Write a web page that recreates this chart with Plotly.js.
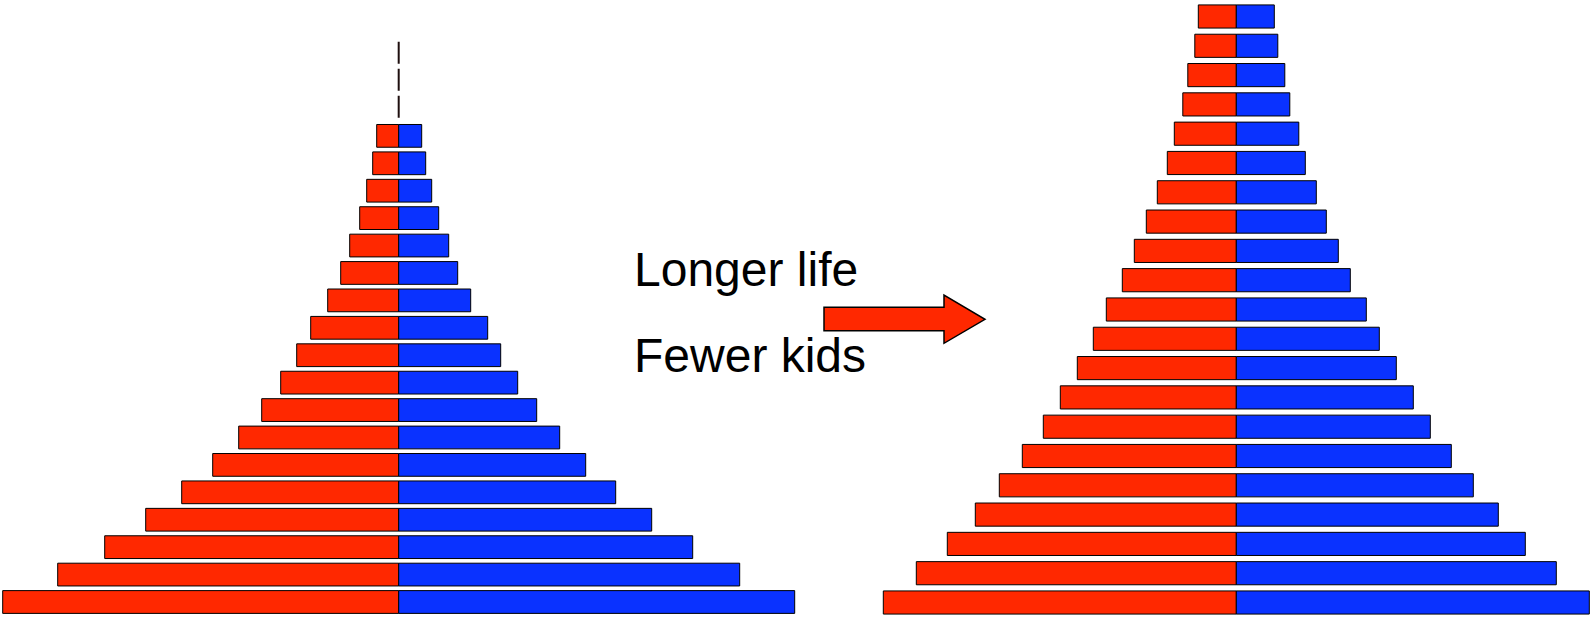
<!DOCTYPE html>
<html>
<head>
<meta charset="utf-8">
<script src="https://cdn.plot.ly/plotly-3.0.1.min.js"></script>
<style>
  html, body { margin: 0; padding: 0; background: #ffffff; }
  #chart { width: 1592px; height: 618px; }
</style>
</head>
<body>
<div id="chart"></div>
<script>
// ---------- DATA (bottom age group first) ----------
// Before: young, high-birth population (18 age groups)
const beforeAges = ['0-4','5-9','10-14','15-19','20-24','25-29','30-34','35-39','40-44',
                    '45-49','50-54','55-59','60-64','65-69','70-74','75-79','80-84','85-89'];
const beforeLeft  = [396, 341, 294, 253, 217, 186, 160, 137, 118, 102, 88, 71, 58, 49, 39, 32, 26, 22];
const beforeRight = [396, 341, 294, 253, 217, 187, 161, 138, 119, 102, 89, 72, 59, 50, 40, 33, 27, 23];

// After: longer life, fewer kids (21 age groups)
const afterAges = ['0-4','5-9','10-14','15-19','20-24','25-29','30-34','35-39','40-44',
                   '45-49','50-54','55-59','60-64','65-69','70-74','75-79','80-84','85-89',
                   '90-94','95-99','100+'];
const afterLeft  = [353, 320, 289, 261, 237, 214, 193, 176, 159, 143, 130, 114, 102, 90, 79, 69, 62, 53.5, 48.5, 41.5, 38];
const afterRight = [353, 320, 289, 262, 237, 215, 194, 177, 160, 143, 130, 114, 102, 90, 80, 69, 62.5, 53.5, 48.5, 41.5, 38];

const annotationTexts = ['Longer life', 'Fewer kids'];

// ---------- STYLE ----------
const RED = '#FF2800';
const BLUE = '#0A32FF';
const W = 1592, H = 618;

function sideTraces(ages, leftVals, rightVals, xa, ya, barWidth) {
  return [
    {
      type: 'bar', orientation: 'h',
      y: ages, x: leftVals.map(v => -v),
      xaxis: xa, yaxis: ya, width: barWidth,
      marker: { color: RED, line: { color: '#000000', width: 1 } },
      hoverinfo: 'skip', showlegend: false
    },
    {
      type: 'bar', orientation: 'h',
      y: ages, x: rightVals,
      xaxis: xa, yaxis: ya, width: barWidth,
      marker: { color: BLUE, line: { color: '#000000', width: 1 } },
      hoverinfo: 'skip', showlegend: false
    }
  ];
}

const data = [
  ...sideTraces(beforeAges, beforeLeft, beforeRight, 'x', 'y', 0.83),
  ...sideTraces(afterAges, afterLeft, afterRight, 'x2', 'y2', 0.79)
];

const hidden = {
  showgrid: false, zeroline: false, showline: false,
  showticklabels: false, ticks: '', fixedrange: true
};

// pixel helpers for paper positioning
const px = x => x / W;
const py = y => 1 - y / H;

const arrowPath =
  'M ' + px(824) + ',' + py(307.3) +
  ' L ' + px(944) + ',' + py(307.3) +
  ' L ' + px(944) + ',' + py(295) +
  ' L ' + px(985) + ',' + py(319.3) +
  ' L ' + px(944) + ',' + py(343.3) +
  ' L ' + px(944) + ',' + py(330.7) +
  ' L ' + px(824) + ',' + py(330.7) + ' Z';

const layout = {
  width: W, height: H,
  margin: { l: 0, r: 0, t: 0, b: 0, pad: 0 },
  paper_bgcolor: '#ffffff', plot_bgcolor: '#ffffff',
  barmode: 'relative',
  showlegend: false,
  xaxis:  Object.assign({}, hidden, { domain: [0, 797.4 / W], range: [-398.7, 398.7] }),
  yaxis:  Object.assign({}, hidden, { type: 'category', range: [-0.5835, 21.955], anchor: 'x' }),
  xaxis2: Object.assign({}, hidden, { domain: [880.6 / W, 1], range: [-355.7, 355.7], anchor: 'y2' }),
  yaxis2: Object.assign({}, hidden, { type: 'category', range: [-0.529, 20.563], anchor: 'x2' }),
  shapes: [
    {
      type: 'line', xref: 'x', yref: 'paper',
      x0: 0, x1: 0, y0: py(41.7), y1: py(118),
      line: { color: '#1e0f0f', width: 2, dash: '22px,5px' }
    },
    {
      type: 'path', xref: 'paper', yref: 'paper',
      path: arrowPath,
      fillcolor: RED,
      line: { color: '#000000', width: 1.5 }
    }
  ],
  annotations: [
    {
      text: annotationTexts[0], xref: 'paper', yref: 'paper',
      x: px(632), y: py(269.4), xanchor: 'left', yanchor: 'middle',
      showarrow: false,
      font: { family: 'Liberation Sans, Arial, sans-serif', size: 48, color: '#000000' }
    },
    {
      text: annotationTexts[1], xref: 'paper', yref: 'paper',
      x: px(632), y: py(355.4), xanchor: 'left', yanchor: 'middle',
      showarrow: false,
      font: { family: 'Liberation Sans, Arial, sans-serif', size: 48, color: '#000000' }
    }
  ]
};

Plotly.newPlot('chart', data, layout, { displayModeBar: false, staticPlot: true });
</script>
</body>
</html>
